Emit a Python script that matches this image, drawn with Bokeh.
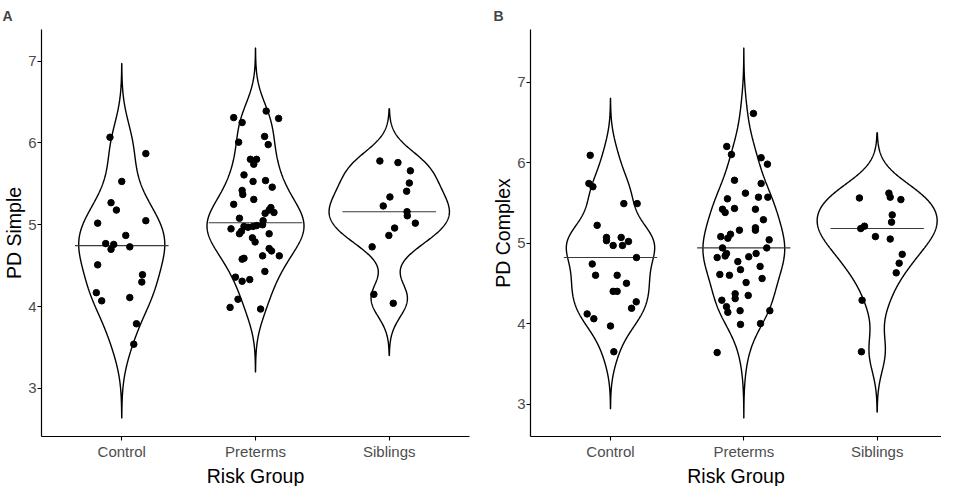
import numpy as np
from bokeh.plotting import figure
from bokeh.layouts import row
from bokeh.models import FixedTicker, Range1d, Title
from bokeh.embed import file_html
from bokeh.resources import INLINE

groups = ["Control", "Preterms", "Siblings"]
x_title = "Risk Group"

# ---------- Panel A : PD Simple ----------
a_control = [6.07, 5.87, 5.53, 5.27, 5.18, 5.02, 5.05, 4.87, 4.77, 4.76,
             4.70, 4.73, 4.51, 4.39, 4.30, 4.17, 4.07, 4.11, 3.79, 3.54]
a_control_jit = [-0.088, 0.18, 0.0, -0.08, -0.04, -0.18, 0.18, 0.03, -0.12, -0.06,
                 -0.08, 0.06, -0.18, 0.155, 0.15, -0.19, -0.15, 0.06, 0.11, 0.09]

a_preterms = [6.39, 6.31, 6.30, 6.25, 6.08, 6.01, 5.98, 5.80, 5.80, 5.74,
              5.61, 5.54, 5.53, 5.46, 5.42, 5.37, 5.31, 5.25, 5.21, 5.18,
              5.15, 5.14, 5.08, 5.05, 5.00, 4.99, 4.98, 4.98, 4.97, 4.95,
              4.92, 4.89, 4.89, 4.84, 4.79, 4.71, 4.68, 4.62, 4.62, 4.59,
              4.58, 4.43, 4.36, 4.33, 4.31, 4.09, 3.99, 3.97]
a_preterms_jit = [0.08, -0.163, 0.173, -0.10, 0.068, -0.126, 0.095, -0.038, 0.008, -0.013,
                  -0.086, 0.075, -0.018, 0.125, -0.10, -0.095, -0.013, -0.163, 0.115, 0.102,
                  0.138, 0.072, -0.12, 0.057, 0.053, 0.008, -0.018, -0.086, -0.056, -0.183,
                  -0.105, -0.12, 0.102, -0.023, -0.003, 0.102, 0.12, 0.178, 0.053, -0.086,
                  -0.10, 0.07, -0.15, -0.043, -0.10, -0.131, -0.19, 0.038]

a_siblings = [5.78, 5.76, 5.66, 5.51, 5.41, 5.34, 5.23, 5.16, 5.11, 5.02,
              4.96, 4.87, 4.73, 4.15, 4.04]
a_siblings_jit = [-0.07, 0.065, 0.158, 0.15, 0.13, 0.005, -0.045, 0.133, 0.135, 0.195,
                  0.04, -0.003, -0.128, -0.115, 0.03]

# ---------- Panel B : PD Complex ----------
b_control = [6.09, 5.74, 5.70, 5.49, 5.49, 5.22, 5.07, 5.03, 5.07, 4.97,
             4.97, 5.02, 4.82, 4.74, 4.60, 4.60, 4.50, 4.40, 4.40, 4.27,
             4.19, 4.12, 4.06, 3.97, 3.65]
b_control_jit = [-0.152, -0.162, -0.132, 0.10, 0.20, -0.10, -0.03, -0.03, 0.08, 0.02,
                 0.09, 0.135, 0.195, -0.137, -0.112, 0.05, 0.12, 0.02, 0.05, 0.193,
                 0.158, -0.175, -0.125, 0.0, 0.025]

b_preterms = [6.61, 6.20, 6.10, 6.06, 5.98, 5.78, 5.74, 5.62, 5.57, 5.57,
              5.55, 5.43, 5.42, 5.42, 5.38, 5.29, 5.19, 5.16, 5.16, 5.11,
              5.08, 5.06, 5.04, 4.94, 4.94, 4.87, 4.87, 4.84, 4.83, 4.82,
              4.77, 4.71, 4.67, 4.61, 4.60, 4.56, 4.51, 4.37, 4.35, 4.31,
              4.29, 4.21, 4.16, 4.16, 4.14, 4.00, 3.99, 3.64]
b_preterms_jit = [0.072, -0.128, -0.093, 0.13, 0.177, -0.07, 0.13, 0.012, 0.11, 0.18,
                  -0.123, -0.07, -0.16, 0.087, -0.14, 0.147, 0.087, 0.087, -0.033, -0.10,
                  -0.173, -0.12, 0.19, 0.172, -0.16, -0.13, 0.092, -0.14, 0.037, -0.2,
                  -0.045, 0.122, -0.025, -0.18, -0.108, 0.137, 0.017, -0.065, 0.033, -0.065,
                  -0.165, -0.13, -0.028, 0.195, -0.12, 0.125, -0.025, -0.2]

b_siblings = [5.56, 5.62, 5.57, 5.54, 5.35, 5.26, 5.18, 5.21, 5.08, 5.05,
              4.86, 4.75, 4.63, 4.29, 3.65]
b_siblings_jit = [-0.133, 0.088, 0.098, 0.178, 0.113, 0.108, -0.123, -0.095, -0.013, 0.098,
                  0.188, 0.165, 0.143, -0.113, -0.118]

y_ticks = [3, 4, 5, 6, 7]
FONT = "Liberation Sans"


def bw_nrd0(x):
    hi = np.std(x, ddof=1)
    q75, q25 = np.percentile(x, [75, 25])
    lo = min(hi, (q75 - q25) / 1.34)
    return 0.9 * lo * len(x) ** -0.2


def density(vals):
    x = np.asarray(vals, dtype=float)
    bw = bw_nrd0(x)
    grid = np.linspace(x.min() - 3 * bw, x.max() + 3 * bw, 512)
    d = np.exp(-0.5 * ((grid[:, None] - x[None, :]) / bw) ** 2).sum(1) / (len(x) * bw * np.sqrt(2 * np.pi))
    return grid, d


def make_panel(letter, ylabel, series, jitters, width, min_left, min_right, x_end):
    dens = [density(v) for v in series]
    maxd = max(d.max() for _, d in dens)
    lo = min(g.min() for g, _ in dens)
    hi = max(g.max() for g, _ in dens)
    span = hi - lo
    y0 = lo - 0.05 * span
    p = figure(width=width, height=486, x_range=Range1d(0.4, x_end),
               y_range=Range1d(y0, hi + 0.05 * span),
               output_backend="svg", toolbar_location=None,
               min_border_left=min_left, min_border_right=min_right,
               min_border_top=20, min_border_bottom=0, title=letter)
    for i, (g, d) in enumerate(dens):
        c = i + 1
        hw = 0.45 * d / maxd
        xs = np.concatenate([c + hw, (c - hw)[::-1]])
        ys = np.concatenate([g, g[::-1]])
        p.patch(xs, ys, fill_color="white", line_color="black", line_width=1.4)
        med = float(np.median(series[i]))
        p.segment(x0=[c - 0.35], y0=[med], x1=[c + 0.35], y1=[med],
                  line_color="#3a3a3a", line_width=1.1)
    for i, (v, j) in enumerate(zip(series, jitters)):
        xs = (i + 1) + np.asarray(j)
        p.scatter(xs, v, size=6.5, color="black")

    p.xgrid.visible = False
    p.ygrid.visible = False
    p.outline_line_color = None
    p.background_fill_color = "white"
    p.border_fill_color = "white"
    p.xaxis.ticker = FixedTicker(ticks=[1, 2, 3])
    p.xaxis.major_label_overrides = {1: groups[0], 2: groups[1], 3: groups[2]}
    p.yaxis.ticker = FixedTicker(ticks=y_ticks)
    p.yaxis.axis_label = ylabel
    for ax in (p.xaxis[0], p.yaxis[0]):
        ax.axis_line_color = "black"
        ax.axis_line_width = 1.2
        ax.major_tick_line_color = "black"
        ax.major_tick_line_width = 1.1
        ax.major_tick_in = 0
        ax.major_tick_out = 4
        ax.minor_tick_line_color = None
        ax.major_label_text_font = FONT
        ax.major_label_text_font_size = "15px"
        ax.major_label_text_color = "#4d4d4d"
        ax.major_label_standoff = 1
        ax.axis_label_text_font = FONT
        ax.axis_label_text_font_size = "19.5px"
        ax.axis_label_text_font_style = "normal"
        ax.axis_label_text_color = "black"
        ax.axis_label_standoff = 0
    p.xaxis.major_label_standoff = 2
    # x-axis title placed as a title panel below the axis
    p.add_layout(Title(text=x_title, align="center", text_font=FONT,
                       text_font_size="19.5px", text_font_style="normal",
                       text_color="black", standoff=0), "below")
    p.title.text_font = FONT
    p.title.text_font_size = "14px"
    p.title.text_font_style = "bold"
    p.title.align = "left"
    p.title.standoff = 11
    return p


pA = make_panel("A", "PD Simple", [a_control, a_preterms, a_siblings],
                [a_control_jit, a_preterms_jit, a_siblings_jit],
                width=472, min_left=34, min_right=3, x_end=3.6)
pA.title.offset = -39
pB = make_panel("B", "PD Complex", [b_control, b_preterms, b_siblings],
                [b_control_jit, b_preterms_jit, b_siblings_jit],
                width=469, min_left=58, min_right=0, x_end=0.4 + 411 / 133.33)
pB.title.offset = -37

layout = row(pA, pB)
open("out.html", "w").write(file_html(layout, INLINE))
